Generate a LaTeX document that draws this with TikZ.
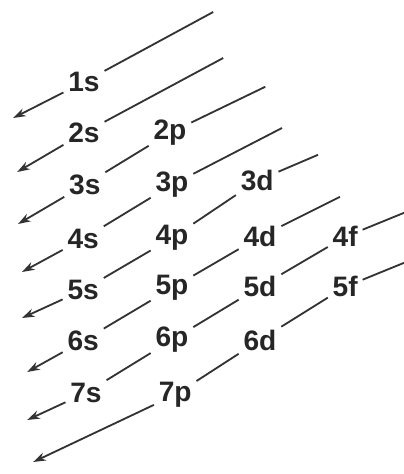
\documentclass[tikz,border=0pt]{standalone}
\usepackage{fontspec}
\setmainfont{Liberation Sans}
\usepackage{tikz}
\usetikzlibrary{arrows.meta}

\begin{document}
\begin{tikzpicture}[>={Stealth[length=9pt,width=6pt]}, scale=1.0,
    orb/.style={font=\fontsize{20}{21}\selectfont\bfseries, text=black!85, inner sep=1pt, outer sep=2.5pt},
    diag/.style={line width=1.3pt, draw=black!80}]
  \useasboundingbox (0,0) rectangle (10.1,11.85);
  % Orbital labels, column s
  \node[orb] (s1) at (2.10,9.80) {1s};
  \node[orb] (s2) at (2.10,8.53) {2s};
  \node[orb] (s3) at (2.12,7.23) {3s};
  \node[orb] (s4) at (2.08,5.88) {4s};
  \node[orb] (s5) at (2.08,4.60) {5s};
  \node[orb] (s6) at (2.08,3.33) {6s};
  \node[orb] (s7) at (2.15,2.03) {7s};
  % Column p
  \node[orb] (p2) at (4.25,8.53) {2p};
  \node[orb] (p3) at (4.30,7.23) {3p};
  \node[orb] (p4) at (4.30,5.90) {4p};
  \node[orb] (p5) at (4.30,4.65) {5p};
  \node[orb] (p6) at (4.30,3.35) {6p};
  \node[orb] (p7) at (4.38,1.98) {7p};
  % Column d
  \node[orb] (d3) at (6.43,7.33) {3d};
  \node[orb] (d4) at (6.50,5.93) {4d};
  \node[orb] (d5) at (6.50,4.68) {5d};
  \node[orb] (d6) at (6.50,3.35) {6d};
  % Column f
  \node[orb] (f4) at (8.63,5.93) {4f};
  \node[orb] (f5) at (8.63,4.68) {5f};
  % Free upper ends of the diagonals
  \coordinate (e1) at (5.33,11.55);
  \coordinate (e2) at (5.58,10.40);
  \coordinate (e3) at (6.63,9.68);
  \coordinate (e4) at (7.05,8.65);
  \coordinate (e5) at (7.95,7.98);
  \coordinate (e6) at (8.50,6.93);
  \coordinate (e7) at (10.20,6.57);
  \coordinate (e8) at (10.20,5.32);
  % Arrow tips on the left
  \coordinate (t1) at (0.33,8.90);
  \coordinate (t2) at (0.43,7.55);
  \coordinate (t3) at (0.45,6.25);
  \coordinate (t4) at (0.55,5.05);
  \coordinate (t5) at (0.55,3.90);
  \coordinate (t6) at (0.68,2.55);
  \coordinate (t7) at (0.68,1.35);
  \coordinate (t8) at (0.83,0.30);
  % Upper segments
  \draw[diag] (s1) -- (e1);
  \draw[diag] (s2) -- (e2);
  \draw[diag] (p2) -- (e3);
  \draw[diag] (p3) -- (e4);
  \draw[diag] (d3) -- (e5);
  \draw[diag] (d4) -- (e6);
  \draw[diag] (f4) -- (e7);
  \draw[diag] (f5) -- (e8);
  % Segments between labels
  \draw[diag] (s3) -- (p2);
  \draw[diag] (s4) -- (p3);
  \draw[diag] (s5) -- (p4);
  \draw[diag] (s6) -- (p5);
  \draw[diag] (s7) -- (p6);
  \draw[diag] (p4) -- (d3);
  \draw[diag] (p5) -- (d4);
  \draw[diag] (p6) -- (d5);
  \draw[diag] (p7) -- (d6);
  \draw[diag] (d5) -- (f4);
  \draw[diag] (d6) -- (f5);
  % Arrows pointing down-left
  \draw[diag,->] (s1) -- (t1);
  \draw[diag,->] (s2) -- (t2);
  \draw[diag,->] (s3) -- (t3);
  \draw[diag,->] (s4) -- (t4);
  \draw[diag,->] (s5) -- (t5);
  \draw[diag,->] (s6) -- (t6);
  \draw[diag,->] (s7) -- (t7);
  \draw[diag,->] (p7) -- (t8);
\end{tikzpicture}
\end{document}
